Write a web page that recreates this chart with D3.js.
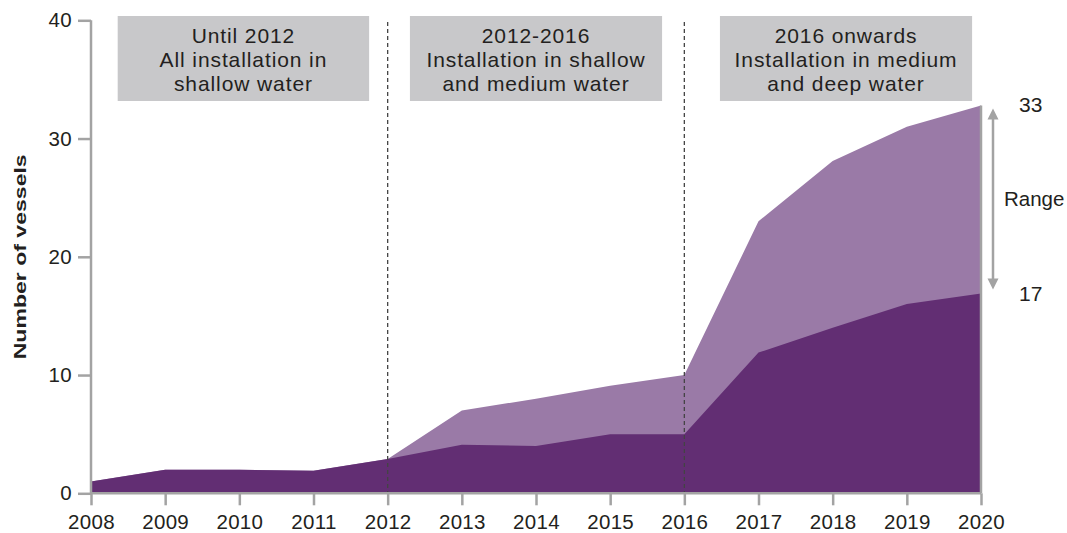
<!DOCTYPE html>
<html><head><meta charset="utf-8">
<script src="https://cdn.jsdelivr.net/npm/d3@7"></script>
<style>body{margin:0;background:#fff}svg{display:block}text{font-family:"Liberation Sans",Arial,sans-serif;fill:#231f20}</style>
</head><body>
<svg id="c" width="1067" height="533"></svg>
<script>
const years = [2008,2009,2010,2011,2012,2013,2014,2015,2016,2017,2018,2019,2020];
const lowValues = [1,2,2,1.9,2.9,4.1,4,5,5,11.9,14,16,16.9];
const highValues = [1,2,2,1.9,2.9,7,8,9.1,10,23,28.1,31,32.8];
const yTicks = [0,10,20,30,40];
const dividerYears = [2012,2016];
const periods = [
  {from:2008.36, to:2011.75, lines:["Until 2012","All installation in","shallow water"]},
  {from:2012.3, to:2015.7, lines:["2012-2016","Installation in shallow","and medium water"]},
  {from:2016.48, to:2019.88, lines:["2016 onwards","Installation in medium","and deep water"]}
];
const rangeLabels = {high:"33", low:"17", mid:"Range"};
const yTitle = "Number of vessels";

const svg = d3.select("#c");
const x = d3.scaleLinear().domain([2008,2020]).range([91,981]);
const y = d3.scaleLinear().domain([0,40]).range([493.3,20.3]);

const data = years.map((yr,i)=>({yr, lo:lowValues[i], hi:highValues[i]}));
const area = (acc)=>d3.area().x(d=>x(d.yr)).y0(y(0)).y1(d=>y(acc(d)));
svg.append("path").attr("d",area(d=>d.hi)(data)).attr("fill","#9a7aa7");
svg.append("path").attr("d",area(d=>d.lo)(data)).attr("fill","#622e73");

// right edge line
svg.append("line").attr("x1",x(2020)).attr("x2",x(2020)).attr("y1",y(highValues[highValues.length-1])).attr("y2",y(0))
  .attr("stroke","#a3a3a3").attr("stroke-width",2.5);

// dividers
svg.selectAll(".div").data(dividerYears).join("line")
  .attr("x1",d=>x(d)).attr("x2",d=>x(d)).attr("y1",22).attr("y2",y(0))
  .attr("stroke","#444").attr("stroke-width",1.3).attr("stroke-dasharray","4,3");

// axes
const gx = svg.append("g").attr("transform",`translate(0,${y(0)})`)
  .call(d3.axisBottom(x).tickValues(years).tickFormat(d3.format("d")).tickSize(12).tickPadding(9));
const gy = svg.append("g").attr("transform",`translate(${x(2008)},0)`)
  .call(d3.axisLeft(y).tickValues(yTicks).tickSize(13).tickPadding(6));
[gx,gy].forEach(g=>{
  g.select(".domain").attr("stroke","#a3a3a3").attr("stroke-width",2.5);
  g.selectAll(".tick line").attr("stroke","#a3a3a3").attr("stroke-width",2.5);
  g.selectAll(".tick text").attr("font-size",20.5).attr("fill","#231f20")
    .style("font-family","'Liberation Sans',Arial,sans-serif").style("letter-spacing","0.3px");
});
gx.select(".domain").attr("d",`M${x(2008)},0H${x(2020)}`);
gy.select(".domain").attr("d",`M0,${y(40)}V${y(0)}`);

// y title
svg.append("text").attr("transform",`translate(25.5,${y(20)}) rotate(-90)`).attr("text-anchor","middle")
  .attr("font-size",17).attr("font-weight","bold")
  .attr("textLength",205).attr("lengthAdjust","spacingAndGlyphs").text(yTitle);

// period boxes
const pg = svg.selectAll(".pb").data(periods).join("g");
pg.append("rect").attr("x",d=>x(d.from)).attr("width",d=>x(d.to)-x(d.from)).attr("y",16).attr("height",85).attr("fill","#c8c8ca");
pg.each(function(d){
  const g=d3.select(this);
  d.lines.forEach((t,i)=>g.append("text").attr("x",(x(d.from)+x(d.to))/2).attr("y",43+i*24)
    .attr("text-anchor","middle").attr("font-size",21).style("letter-spacing","0.9px").text(t));
});

// range arrow
const ax = 993;
const yTop = y(highValues[12])+3, yBot = y(lowValues[12])-4;
svg.append("line").attr("x1",ax).attr("x2",ax).attr("y1",yTop+8).attr("y2",yBot-8).attr("stroke","#a3a3a3").attr("stroke-width",2.5);
svg.append("path").attr("d",`M${ax},${yTop}L${ax-5.5},${yTop+11}L${ax+5.5},${yTop+11}Z`).attr("fill","#a3a3a3");
svg.append("path").attr("d",`M${ax},${yBot}L${ax-5.5},${yBot-11}L${ax+5.5},${yBot-11}Z`).attr("fill","#a3a3a3");
svg.append("text").attr("x",1019).attr("y",y(highValues[12])+7).attr("font-size",21).text(rangeLabels.high);
svg.append("text").attr("x",1019).attr("y",y(lowValues[12])+8).attr("font-size",21).text(rangeLabels.low);
svg.append("text").attr("x",1004).attr("y",(yTop+yBot)/2+7).attr("font-size",20.5).text(rangeLabels.mid);
</script>
</body></html>
